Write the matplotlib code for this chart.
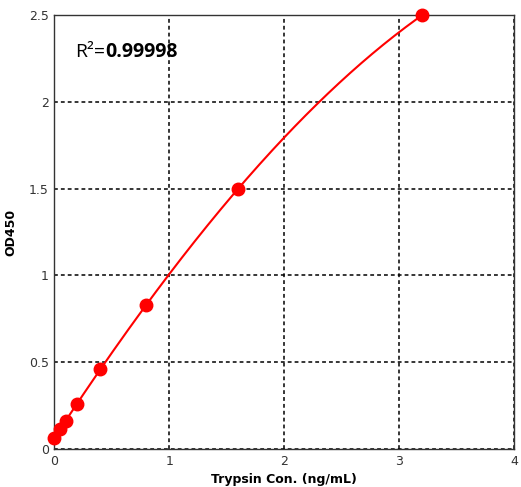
import numpy as np
import matplotlib
matplotlib.use('Agg')
from matplotlib import pyplot as plt

conc = [0, 0.05, 0.1, 0.2, 0.4, 0.8, 1.6, 3.2]
od450 = [0.063, 0.115, 0.16, 0.26, 0.46, 0.83, 1.50, 2.50]
xticks = [0, 1, 2, 3, 4]
yticks = [0, 0.5, 1, 1.5, 2, 2.5]
yticklabels = ['0', '0.5', '1', '1.5', '2', '2.5']

fig = plt.figure(figsize=(5.21, 4.87), dpi=100)
ax = fig.add_axes([0.104, 0.078, 0.883, 0.891])

# smooth standard curve through the points
coef = np.polyfit(conc, od450, 3)
xs = np.linspace(min(conc), max(conc), 200)
ax.plot(xs, np.polyval(coef, xs), color='red', lw=1.5, zorder=3)
ax.plot(conc, od450, 'o', color='red', ms=9, zorder=4, clip_on=False)

ax.set_xlim(0, 4)
ax.set_ylim(0, 2.5)
ax.set_xticks(xticks)
ax.set_yticks(yticks)
ax.set_yticklabels(yticklabels)
ax.tick_params(length=0, labelsize=9, colors='#333333', pad=4)
ax.grid(True, color='black', ls=(0, (2.5, 2)), lw=1.1)
for s in ax.spines.values():
    s.set_color('#333333')
    s.set_linewidth(1)

ax.set_xlabel('Trypsin Con. (ng/mL)', fontsize=9, fontweight='bold', labelpad=4)
ax.set_ylabel('OD450', fontsize=9, fontweight='bold', labelpad=8)

r2 = ax.text(0.045, 0.915, 'R\u00b2=', transform=ax.transAxes, fontsize=14,
             family='Open Sans', va='center', ha='left')
ax.annotate('0.99998', xy=(1, 0.5), xycoords=r2, xytext=(0, 0),
            textcoords='offset points', fontsize=14, family='Open Sans',
            fontweight='bold', va='center', ha='left')

fig.savefig('out.png', dpi=100)
